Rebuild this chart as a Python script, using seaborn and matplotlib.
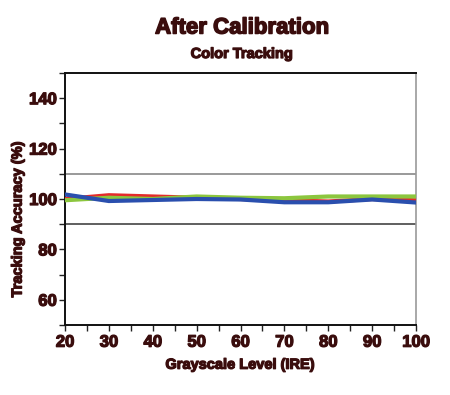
import matplotlib
matplotlib.use("Agg")
import matplotlib.pyplot as plt
import matplotlib.patheffects as pe
import seaborn as sns
import pandas as pd
from matplotlib.ticker import MultipleLocator

ire = [20, 30, 40, 50, 60, 70, 80, 90, 100]
red = [100.0, 101.5, 101.0, 100.5, 100.0, 99.5, 99.0, 100.0, 99.5]
green = [99.5, 100.5, 100.0, 101.0, 100.5, 100.3, 101.0, 101.0, 101.0]
blue = [101.8, 99.2, 99.6, 100.0, 99.8, 98.7, 98.7, 99.8, 98.6]

df = pd.DataFrame({"IRE": ire * 3,
                   "val": red + green + blue,
                   "ch": ["R"] * 9 + ["G"] * 9 + ["B"] * 9})

sns.set_style("white")
plt.rcParams['font.family'] = ['Liberation Sans', 'DejaVu Sans']
txt = "#3a0d0d"
heavy = [pe.withStroke(linewidth=0.9, foreground=txt)]

fig = plt.figure(figsize=(4.5, 3.95), dpi=100)
ax = fig.add_axes([65/450, 1-325/395, 351/450, 252/395])

ax.axhline(110, color="#888888", lw=1.2, zorder=1)
ax.axhline(90, color="#444444", lw=1.2, zorder=1)

sns.lineplot(data=df, x="IRE", y="val", hue="ch",
             palette={"R": "#e52a2a", "G": "#8cc63e", "B": "#2a4fae"},
             hue_order=["R", "G", "B"], lw=3, ax=ax, legend=False, zorder=3)

ax.set_xlim(20, 100)
ax.set_ylim(50, 150)
ax.set_xticks([20, 30, 40, 50, 60, 70, 80, 90, 100])
ax.set_yticks([60, 80, 100, 120, 140])
ax.xaxis.set_minor_locator(MultipleLocator(5))
ax.yaxis.set_minor_locator(MultipleLocator(10))
ax.tick_params(axis="both", which="both", direction="out", color="#222222",
               bottom=True, left=True, top=False, right=False)
ax.tick_params(which="major", length=4, width=1)
ax.tick_params(which="minor", length=4, width=1)
ax.tick_params(axis="x", labelsize=12, labelcolor=txt, pad=3)
ax.tick_params(axis="y", labelsize=12, labelcolor=txt, pad=2)
for l in ax.get_xticklabels() + ax.get_yticklabels():
    l.set_fontweight("bold")
    l.set_path_effects(heavy)

for s in ["left", "bottom", "top"]:
    ax.spines[s].set_color("#111111")
    ax.spines[s].set_linewidth(1.4)
ax.spines["right"].set_color("#999999")
ax.spines["right"].set_linewidth(1.2)

ax.set_xlabel("Grayscale Level (IRE)", fontsize=10.5, fontweight="bold", color=txt,
              path_effects=heavy)
ax.xaxis.set_label_coords(0.5, -0.13)
ax.set_ylabel("Tracking Accuracy (%)", fontsize=10.5, fontweight="bold", color=txt,
              path_effects=heavy)
ax.yaxis.set_label_coords(-0.115, 0.42)

fig.text(242/450, 1-28/395, "After Calibration", ha="center", va="center",
         fontsize=16, fontweight="bold", color=txt, path_effects=[pe.withStroke(linewidth=1.1, foreground=txt)])
fig.text(242/450, 1-54/395, "Color Tracking", ha="center", va="center",
         fontsize=10.5, fontweight="bold", color=txt, path_effects=heavy)

fig.savefig("out.png", dpi=100)
